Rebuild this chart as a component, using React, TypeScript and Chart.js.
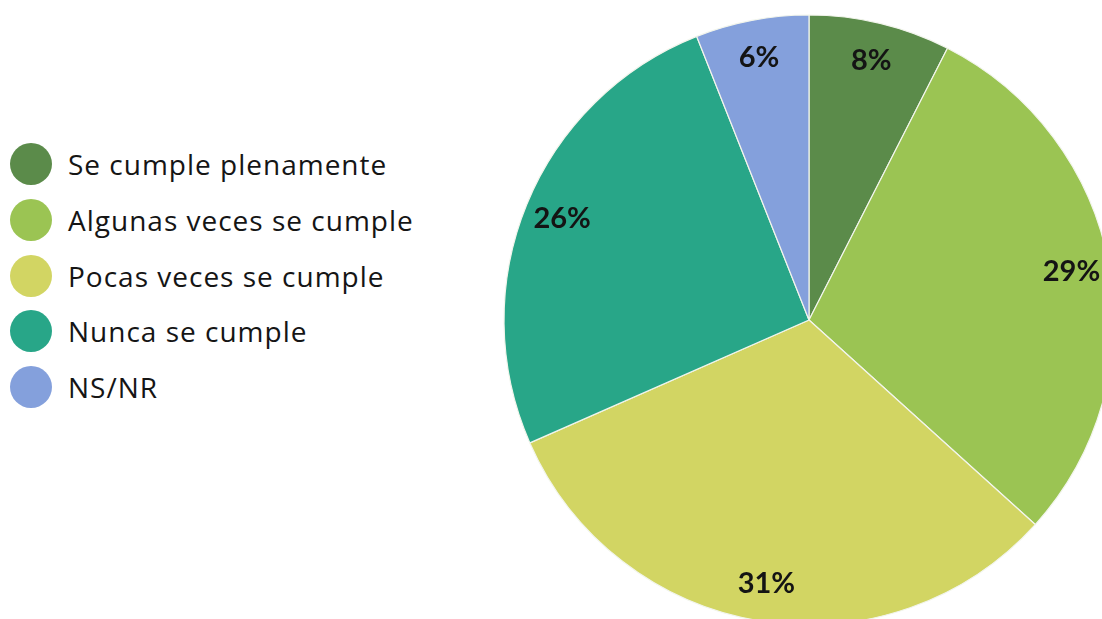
import React, { useEffect, useRef } from "react";
import { Chart, registerables } from "chart.js";

Chart.register(...registerables);

// Data
const categories: string[] = [
  "Se cumple plenamente",
  "Algunas veces se cumple",
  "Pocas veces se cumple",
  "Nunca se cumple",
  "NS/NR",
];
// Slice shares
const shares: number[] = [7.5, 29.2, 31.7, 25.6, 6.0];
// Labels printed on the slices
const pctLabels: string[] = ["8%", "29%", "31%", "26%", "6%"];
const colors: string[] = ["#5B8B4A", "#9BC453", "#D2D563", "#28A688", "#84A0DC"];

const sliceLabelPlugin = {
  id: "sliceLabels",
  afterDatasetsDraw(chart: any) {
    const ctx = chart.ctx;
    const meta = chart.getDatasetMeta(0);
    ctx.save();
    ctx.font = "bold 29px Lato, 'Open Sans', sans-serif";
    ctx.fillStyle = "#141414";
    ctx.textAlign = "center";
    ctx.textBaseline = "middle";
    meta.data.forEach((arc: any, i: number) => {
      const { x, y, startAngle, endAngle, outerRadius } = arc.getProps(
        ["x", "y", "startAngle", "endAngle", "outerRadius"],
        true
      );
      const mid = (startAngle + endAngle) / 2;
      const r = outerRadius * 0.875;
      ctx.fillText(pctLabels[i], x + Math.cos(mid) * r, y + Math.sin(mid) * r);
    });
    ctx.restore();
  },
};

export default function App() {
  const canvasRef = useRef<HTMLCanvasElement | null>(null);

  useEffect(() => {
    if (!canvasRef.current) return;
    const chart = new Chart(canvasRef.current, {
      type: "pie",
      data: {
        labels: categories,
        datasets: [
          {
            data: shares,
            backgroundColor: colors,
            borderColor: "#F2F5EC",
            borderWidth: 1.2,
          },
        ],
      },
      options: {
        responsive: false,
        animation: false,
        radius: 305,
        layout: { padding: 0 },
        plugins: {
          legend: { display: false },
          tooltip: { enabled: false },
        },
      } as any,
      plugins: [sliceLabelPlugin],
    });
    return () => chart.destroy();
  }, []);

  return (
    <div
      style={{
        position: "fixed",
        left: 0,
        top: 0,
        width: 1102,
        height: 619,
        overflow: "hidden",
        background: "#ffffff",
      }}
    >
      <canvas
        ref={canvasRef}
        width={700}
        height={700}
        style={{ position: "absolute", left: 459, top: -30, width: 700, height: 700 }}
      />
      {categories.map((c, i) => (
        <div
          key={c}
          style={{
            position: "absolute",
            left: 10,
            top: 164 + i * 55.8 - 21,
            height: 42,
            display: "flex",
            alignItems: "center",
            whiteSpace: "nowrap",
          }}
        >
          <span
            style={{
              display: "inline-block",
              width: 42,
              height: 42,
              borderRadius: "50%",
              background: colors[i],
            }}
          />
          <span
            style={{
              marginLeft: 16,
              fontFamily: "'Open Sans', sans-serif",
              fontSize: 28,
              fontWeight: 500,
              letterSpacing: 1,
              color: "#151515",
              lineHeight: "42px",
            }}
          >
            {c}
          </span>
        </div>
      ))}
    </div>
  );
}
